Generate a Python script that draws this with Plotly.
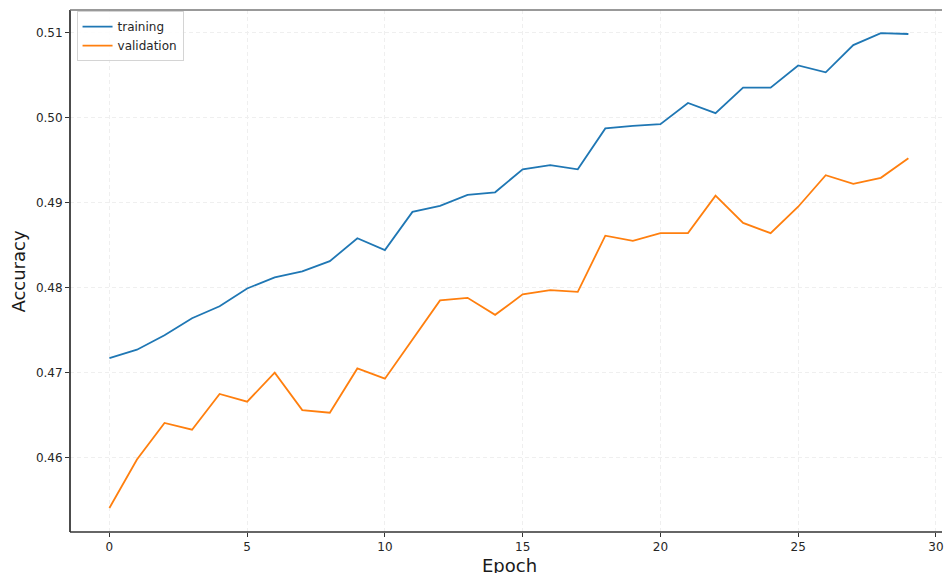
import plotly.graph_objects as go

# Per-epoch accuracy for the training and validation sets
epochs = list(range(30))
training = [0.4717, 0.4727, 0.4744, 0.4764, 0.4778, 0.4799, 0.4812, 0.4819, 0.4831, 0.4858,
            0.4844, 0.4889, 0.4896, 0.4909, 0.4912, 0.4939, 0.4944, 0.4939, 0.4987, 0.4990,
            0.4992, 0.5017, 0.5005, 0.5035, 0.5035, 0.5061, 0.5053, 0.5085, 0.5099, 0.5098]
validation = [0.4541, 0.4598, 0.4641, 0.4633, 0.4675, 0.4666, 0.4700, 0.4656, 0.4653, 0.4705,
              0.4693, 0.4739, 0.4785, 0.4788, 0.4768, 0.4792, 0.4797, 0.4795, 0.4861, 0.4855,
              0.4864, 0.4864, 0.4908, 0.4876, 0.4864, 0.4895, 0.4932, 0.4922, 0.4929, 0.4952]
x_ticks = [0, 5, 10, 15, 20, 25, 30]
y_ticks = [0.46, 0.47, 0.48, 0.49, 0.50, 0.51]

W, H = 944, 573
ML, MT, MB = 70, 10, 41

fig = go.Figure()
fig.add_trace(go.Scatter(x=epochs, y=training, mode="lines", name="training",
                         line=dict(color="#1f77b4", width=1.8)))
fig.add_trace(go.Scatter(x=epochs, y=validation, mode="lines", name="validation",
                         line=dict(color="#ff7f0e", width=1.8)))

font = "DejaVu Sans, Verdana, sans-serif"
grid = dict(showgrid=True, gridcolor="#efefef", griddash="4px,3px", gridwidth=1,
            zeroline=False, ticks="outside", ticklen=4, tickwidth=1,
            tickcolor="#333333", tickfont=dict(family=font, size=12, color="#262626"),
            showline=False, ticklabeloverflow="allow")

fig.update_xaxes(range=[-1.43, 30.22], tickvals=x_ticks, **grid)
fig.update_yaxes(range=[0.45128, 0.51262], tickvals=y_ticks, tickformat=".2f", **grid)

# Axes frame: left, bottom and top spines
fig.add_shape(type="line", xref="paper", yref="paper", x0=0, x1=0, y0=0, y1=1,
              line=dict(color="#111111", width=1.5))
fig.add_shape(type="line", xref="paper", yref="paper", x0=0, x1=1, y0=0, y1=0,
              line=dict(color="#333333", width=1.6))
fig.add_shape(type="line", xref="paper", yref="paper", x0=0, x1=1, y0=1, y1=1,
              line=dict(color="#777777", width=1.6))

# Axis titles
fig.add_annotation(text="Epoch", xref="paper", yref="paper", x=(510.7 - ML) / (W - ML),
                   y=-(565 - (H - MB)) / (H - MT - MB), showarrow=False,
                   xanchor="center", yanchor="middle",
                   font=dict(family=font, size=18, color="#1a1a1a"))
fig.add_annotation(text="Accuracy", xref="paper", yref="paper", x=-(ML - 17.5) / (W - ML),
                   y=0.5, textangle=-90, showarrow=False,
                   xanchor="center", yanchor="middle",
                   font=dict(family=font, size=18, color="#1a1a1a"))

fig.update_layout(
    width=W, height=H,
    margin=dict(l=ML, r=0, t=MT, b=MB),
    paper_bgcolor="white", plot_bgcolor="white",
    font=dict(family=font, size=12, color="#262626"),
    showlegend=True,
    legend=dict(x=0.0075, y=0.998, xanchor="left", yanchor="top",
                bgcolor="rgba(255,255,255,0.85)", bordercolor="#d4d4d4", borderwidth=1,
                font=dict(family=font, size=12, color="#262626"),
                tracegroupgap=0, itemwidth=30),
)

fig.write_html("out.html")
